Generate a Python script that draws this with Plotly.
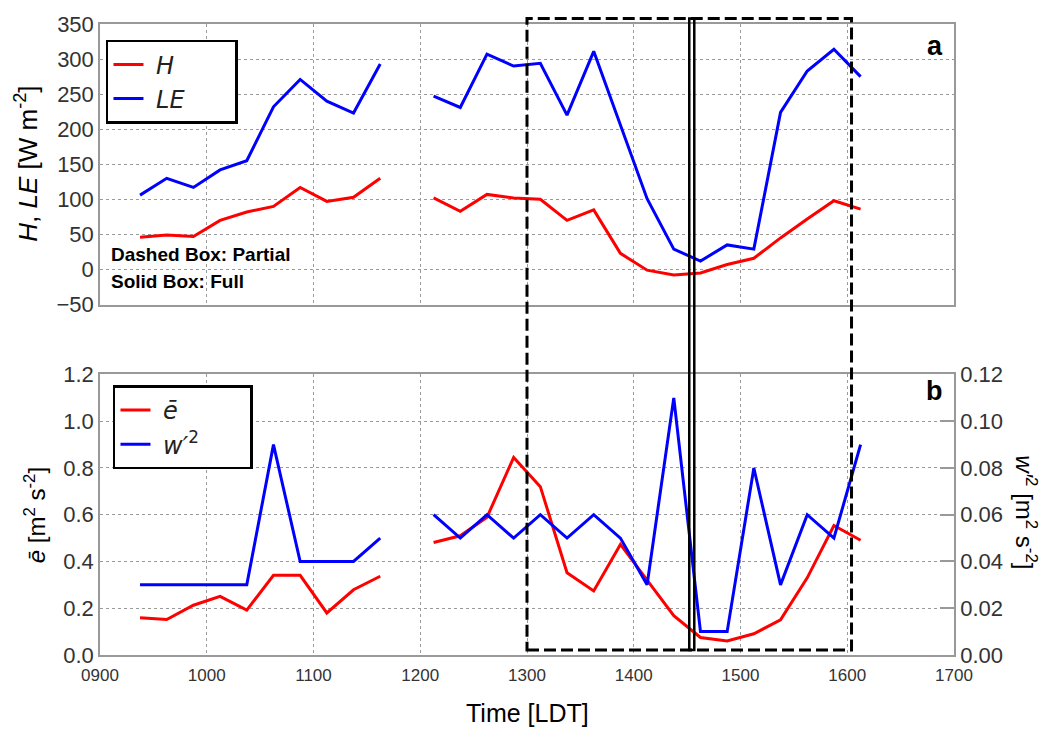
import plotly.graph_objects as go
from plotly.subplots import make_subplots

# Averaging-interval centres in decimal hours (LDT); 11.875 has no data
time_h = [9.375, 9.625, 9.875, 10.125, 10.375, 10.625, 10.875, 11.125, 11.375, 11.625,
          11.875,
          12.125, 12.375, 12.625, 12.875, 13.125, 13.375, 13.625, 13.875, 14.125,
          14.375, 14.625, 14.875, 15.125, 15.375, 15.625, 15.875, 16.125]

# Sensible heat flux H [W m-2]
H = [46, 49, 47, 70, 82, 90, 117, 97, 103, 130,
     None,
     102, 83, 107, 102, 100, 70, 85, 23, -1, -8, -5, 7, 16, 45, 72, 98, 86]

# Latent heat flux LE [W m-2]
LE = [106, 130, 117, 142, 155, 232, 271, 240, 223, 293,
      None,
      247, 231, 307, 290, 294, 220, 311, 205, 101, 29, 12, 35, 29, 224, 283, 314, 275]

# Mean TKE e-bar [m2 s-2]
E_BAR = [0.159, 0.152, 0.213, 0.251, 0.192, 0.341, 0.341, 0.180, 0.279, 0.337,
         None,
         0.481, 0.510, 0.589, 0.845, 0.720, 0.352, 0.274, 0.473, 0.320,
         0.168, 0.075, 0.060, 0.091, 0.150, 0.330, 0.554, 0.491]

# Vertical velocity variance w'2 [m2 s-2]
W_VAR = [0.03, 0.03, 0.03, 0.03, 0.03, 0.09, 0.04, 0.04, 0.04, 0.05,
         None,
         0.06, 0.05, 0.06, 0.05, 0.06, 0.05, 0.06, 0.05, 0.03,
         0.11, 0.01, 0.01, 0.08, 0.03, 0.06, 0.05, 0.09]

x_tickvals = [9, 10, 11, 12, 13, 14, 15, 16, 17]
x_ticktext = ["0900", "1000", "1100", "1200", "1300", "1400", "1500", "1600", "1700"]

# Eclipse periods (decimal hours): partial and totality
PARTIAL = (13.0, 16.04)
FULL = (14.52, 14.567)

RED = "#ff0000"
BLUE = "#0000ff"
FRAME = "#999999"
GRID = "#9a9a9a"
TICKFONT = dict(family="Liberation Sans, Arial, sans-serif", size=22, color="#333333")
XTICKFONT = dict(family="Liberation Sans, Arial, sans-serif", size=17, color="#333333")
LEGFONT = dict(family="DejaVu Sans, sans-serif", size=24, color="#222222")

# trailing non-breaking spaces widen the legend boxes
PAD_TOP = "\u00a0" * 6
PAD_BOT = "\u00a0" * 6

fig = make_subplots(rows=2, cols=1, shared_xaxes=True,
                    specs=[[{}], [{"secondary_y": True}]])

fig.add_trace(go.Scatter(x=time_h, y=H, mode="lines", name="\u00a0<i>H</i>" + PAD_TOP,
                         line=dict(color=RED, width=3), legend="legend"), row=1, col=1)
fig.add_trace(go.Scatter(x=time_h, y=LE, mode="lines", name="\u00a0<i>LE</i>" + PAD_TOP,
                         line=dict(color=BLUE, width=3), legend="legend"), row=1, col=1)
fig.add_trace(go.Scatter(x=time_h, y=E_BAR, mode="lines", name="\u00a0<i>ē</i>" + PAD_BOT,
                         line=dict(color=RED, width=3), legend="legend2"),
              row=2, col=1, secondary_y=False)
fig.add_trace(go.Scatter(x=time_h, y=W_VAR, mode="lines",
                         name="\u00a0<i>w′</i><sup>2</sup>" + PAD_BOT,
                         line=dict(color=BLUE, width=3), legend="legend2"),
              row=2, col=1, secondary_y=True)

common_x = dict(domain=[0.0, 1.0], range=[9, 17], tickvals=x_tickvals, ticktext=x_ticktext,
                showgrid=True, gridcolor=GRID, griddash="dot", gridwidth=1,
                showline=True, linecolor=FRAME, linewidth=1.5, mirror=True,
                zeroline=False, ticks="")
fig.update_xaxes(**common_x)
fig.update_xaxes(showticklabels=False, row=1, col=1)
fig.update_xaxes(showticklabels=True, tickfont=XTICKFONT, ticklabelstandoff=4,
                 row=2, col=1)

fig.update_layout(
    width=1047, height=735,
    margin=dict(l=100, r=93, t=14, b=80),
    paper_bgcolor="white", plot_bgcolor="white",
    yaxis=dict(domain=[0.5554, 1.0], range=[-50, 350], dtick=50, tick0=0,
               showgrid=True, gridcolor=GRID, griddash="dot", gridwidth=1,
               showline=True, linecolor=FRAME, linewidth=1.5, mirror=True,
               zeroline=False, ticks="", tickfont=TICKFONT),
    yaxis2=dict(domain=[0.0, 0.4446], range=[0, 1.2], dtick=0.2, tick0=0,
                tickformat=".1f",
                showgrid=True, gridcolor=GRID, griddash="dot", gridwidth=1,
                showline=True, linecolor=FRAME, linewidth=1.5, mirror=True,
                zeroline=False, ticks="", tickfont=TICKFONT),
    yaxis3=dict(range=[0, 0.12], dtick=0.02, tick0=0, tickformat=".2f",
                showgrid=False, showline=True, linecolor=FRAME, linewidth=1.5,
                zeroline=False, ticks="inside", ticklen=14, tickcolor=FRAME,
                tickwidth=1.5, tickfont=TICKFONT),
    legend=dict(x=0.007, y=0.975, xanchor="left", yanchor="top",
                bordercolor="black", borderwidth=2.5, bgcolor="white",
                font=LEGFONT, tracegroupgap=0),
    legend2=dict(x=0.0152, y=0.4273, xanchor="left", yanchor="top",
                 bordercolor="black", borderwidth=2.5, bgcolor="white",
                 font=LEGFONT, tracegroupgap=0),
    showlegend=True,
)

# Eclipse boxes spanning both panels
fig.add_shape(type="rect", xref="x", yref="paper",
              x0=PARTIAL[0], x1=PARTIAL[1], y0=0.0078, y1=1.0089,
              line=dict(color="black", width=3, dash="12px,5px"),
              fillcolor="rgba(0,0,0,0)", layer="above")
fig.add_shape(type="rect", xref="x", yref="paper",
              x0=FULL[0], x1=FULL[1], y0=0.0078, y1=1.0089,
              line=dict(color="black", width=2.5),
              fillcolor="rgba(0,0,0,0)", layer="above")

title_font = dict(family="Liberation Sans, Arial, sans-serif", size=26, color="black")
bold_font = dict(family="Liberation Sans, Arial, sans-serif", size=19, color="black")

annotations = [
    dict(text="<i>H</i>, <i>LE</i> [W m<sup>-2</sup>]", x=-0.0855, y=0.7785,
         textangle=-90, font=title_font),
    dict(text="<i>ē</i> [m<sup>2</sup> s<sup>-2</sup>]", x=-0.0761, y=0.2215,
         textangle=-90, font=dict(title_font, size=24)),
    dict(text="<i>w′</i><sup>2</sup> [m<sup>2</sup> s<sup>-2</sup>]", x=1.0843, y=0.2262,
         textangle=90, font=dict(title_font, size=24)),
    dict(text="Time [LDT]", x=0.5, y=-0.092, font=dict(title_font, size=25)),
    dict(text="<b>Dashed Box: Partial</b>", x=0.0105, y=0.635, xanchor="left",
         font=bold_font),
    dict(text="<b>Solid Box: Full</b>", x=0.0105, y=0.5913, xanchor="left",
         font=bold_font),
    dict(text="<b>a</b>", x=0.9774, y=0.9657, font=dict(bold_font, size=27)),
    dict(text="<b>b</b>", x=0.9774, y=0.4186, font=dict(bold_font, size=27)),
]
for a in annotations:
    a.setdefault("xanchor", "center")
    fig.add_annotation(xref="paper", yref="paper", yanchor="middle",
                       showarrow=False, **a)

fig.write_html("out.html")
